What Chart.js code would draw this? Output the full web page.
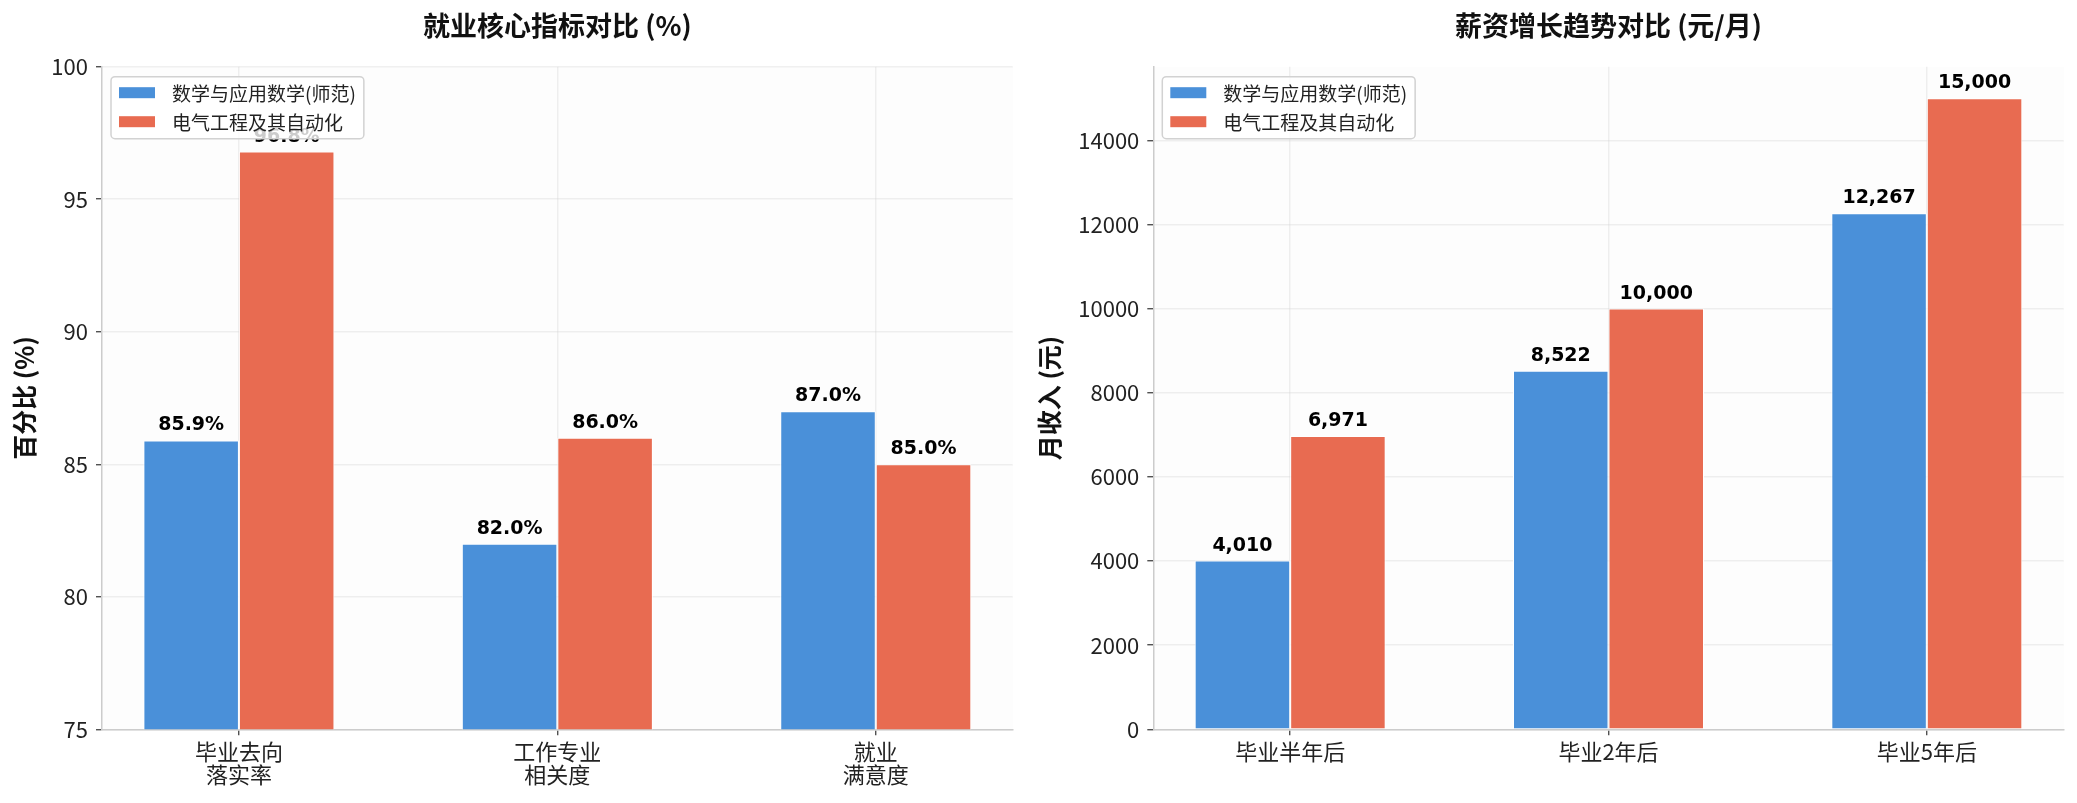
<!DOCTYPE html>
<html>
<head>
<meta charset="utf-8">
<script src="https://cdn.jsdelivr.net/npm/chart.js@4.4.1/dist/chart.umd.min.js"></script>
<style>
body { margin: 0; background: #fff; }
canvas { position: absolute; top: 0; }
#left { left: 0; }
#right { left: 1030px; }
</style>
</head>
<body>
<canvas id="left" width="1030" height="803"></canvas>
<canvas id="right" width="1047" height="803"></canvas>
<script>
// data
var seriesNames = ['数学与应用数学(师范)', '电气工程及其自动化'];

var indicatorLabels = [['毕业去向', '落实率'], ['工作专业', '相关度'], ['就业', '满意度']];
var mathRates = [85.9, 82.0, 87.0];
var elecRates = [96.8, 86.0, 85.0];
var rateTicks = [75, 80, 85, 90, 95, 100];

var salaryLabels = ['毕业半年后', '毕业2年后', '毕业5年后'];
var mathSalary = [4010, 8522, 12267];
var elecSalary = [6971, 10000, 15000];
var salaryTicks = [0, 2000, 4000, 6000, 8000, 10000, 12000, 14000];

var cjk = '"Noto Sans CJK SC", "Noto Sans", sans-serif';
var blue = '#4a90d9';
var red = '#e86b51';
var gridColor = 'rgba(205,205,205,0.3)';

Chart.defaults.font.family = cjk;

// value label formats, kept out of the options so they aren't treated as scriptable
var labelFormats = {
    left: function (v) { return v.toFixed(1) + '%'; },
    right: function (v) { return v.toLocaleString('en-US'); }
};

// background, value labels and the in-plot legend
var decorPlugin = {
    id: 'decor',
    beforeDraw: function (chart) {
        var a = chart.chartArea, ctx = chart.ctx;
        ctx.save();
        ctx.fillStyle = '#fdfdfd';
        ctx.fillRect(a.left, a.top, a.right - a.left, a.bottom - a.top);
        ctx.restore();
    },
    afterDraw: function (chart) {
        var ctx = chart.ctx;
        var fmt = labelFormats[chart.canvas.id];
        ctx.save();
        ctx.font = 'bold 19px "DejaVu Sans", sans-serif';
        ctx.fillStyle = '#000';
        ctx.textAlign = 'center';
        ctx.textBaseline = 'alphabetic';
        chart.data.datasets.forEach(function (ds, i) {
            chart.getDatasetMeta(i).data.forEach(function (bar, j) {
                ctx.fillText(fmt(ds.data[j].y), bar.x, bar.y - 10);
            });
        });

        var a = chart.chartArea;
        var x = a.left + 9, y = a.top + 10;
        ctx.font = '19px ' + cjk;
        var w = 0;
        chart.data.datasets.forEach(function (ds) {
            w = Math.max(w, ctx.measureText(ds.label).width);
        });
        var bw = 61 + w + 8, bh = 62, r = 4;
        ctx.beginPath();
        ctx.moveTo(x + r, y);
        ctx.lineTo(x + bw - r, y);
        ctx.arcTo(x + bw, y, x + bw, y + r, r);
        ctx.lineTo(x + bw, y + bh - r);
        ctx.arcTo(x + bw, y + bh, x + bw - r, y + bh, r);
        ctx.lineTo(x + r, y + bh);
        ctx.arcTo(x, y + bh, x, y + bh - r, r);
        ctx.lineTo(x, y + r);
        ctx.arcTo(x, y, x + r, y, r);
        ctx.closePath();
        ctx.fillStyle = 'rgba(255,255,255,0.8)';
        ctx.fill();
        ctx.strokeStyle = '#d2d2d2';
        ctx.lineWidth = 1.5;
        ctx.stroke();
        ctx.textAlign = 'left';
        ctx.textBaseline = 'middle';
        chart.data.datasets.forEach(function (ds, i) {
            var cy = y + 16 + i * 29;
            ctx.fillStyle = ds.backgroundColor;
            ctx.fillRect(x + 8, cy - 5.5, 36, 11);
            ctx.fillStyle = '#222';
            ctx.fillText(ds.label, x + 61, cy + 1);
        });
        ctx.restore();
    }
};

function makeChart(id, cats, a, b, yMin, yMax, yTicks, title, yTitle, yWidth, padRight, yTitlePad) {
    var toPoints = function (arr) {
        return arr.map(function (v, i) { return { x: i, y: v }; });
    };
    return new Chart(document.getElementById(id), {
        type: 'bar',
        data: {
            datasets: [{
                label: seriesNames[0],
                data: toPoints(a),
                backgroundColor: blue,
                borderColor: '#fff',
                borderWidth: 1,
                categoryPercentage: 0.6,
                barPercentage: 1.0
            }, {
                label: seriesNames[1],
                data: toPoints(b),
                backgroundColor: red,
                borderColor: '#fff',
                borderWidth: 1,
                categoryPercentage: 0.6,
                barPercentage: 1.0
            }]
        },
        options: {
            responsive: false,
            animation: false,
            devicePixelRatio: 1,
            layout: { padding: { left: 0, right: padRight, top: 0, bottom: 0 } },
            plugins: {
                legend: { display: false },
                tooltip: { enabled: false },
                title: {
                    display: true,
                    text: title,
                    fullSize: false,
                    color: '#111',
                    font: { family: cjk, size: 27, weight: 'bold' },
                    padding: { top: 10, bottom: 24.3 }
                }
            },
            scales: {
                x: {
                    type: 'linear',
                    min: -0.43,
                    max: 2.43,
                    offset: false,
                    z: 1,
                    afterBuildTicks: function (s) {
                        s.ticks = cats.map(function (c, i) { return { value: i }; });
                    },
                    afterFit: function (s) { s.height = 73.7; },
                    ticks: {
                        callback: function (v) { return cats[v]; },
                        font: { family: cjk, size: 22, lineHeight: 1.08 },
                        color: '#222',
                        padding: 4,
                        maxRotation: 0,
                        autoSkip: false
                    },
                    grid: { offset: false, color: gridColor, lineWidth: 1.5, tickColor: '#333', tickLength: 6, tickWidth: 1.2 },
                    border: { color: '#cccccc', width: 1.5 }
                },
                y: {
                    min: yMin,
                    max: yMax,
                    z: 1,
                    afterBuildTicks: function (s) {
                        s.ticks = yTicks.map(function (v) { return { value: v }; });
                    },
                    afterFit: function (s) { s.width = yWidth; },
                    ticks: {
                        callback: function (v) { return String(v); },
                        font: { family: cjk, size: 22 },
                        color: '#222',
                        padding: 8
                    },
                    grid: { color: gridColor, lineWidth: 1.5, tickColor: '#333', tickLength: 6, tickWidth: 1.2 },
                    border: { color: '#cccccc', width: 1.5 },
                    title: {
                        display: true,
                        text: yTitle,
                        color: '#111',
                        font: { family: cjk, size: 25, weight: 'bold' },
                        padding: { top: yTitlePad, bottom: 0 }
                    }
                }
            }
        },
        plugins: [decorPlugin]
    });
}

var rateChart = makeChart('left', indicatorLabels, mathRates, elecRates, 75, 100, rateTicks,
    '就业核心指标对比 (%)', '百分比 (%)', 102, 17.3, 9);

var salaryChart = makeChart('right', salaryLabels, mathSalary, elecSalary, 0, 15750, salaryTicks,
    '薪资增长趋势对比 (元/月)', '月收入 (元)', 123.3, 13.3, 4);
</script>
</body>
</html>
